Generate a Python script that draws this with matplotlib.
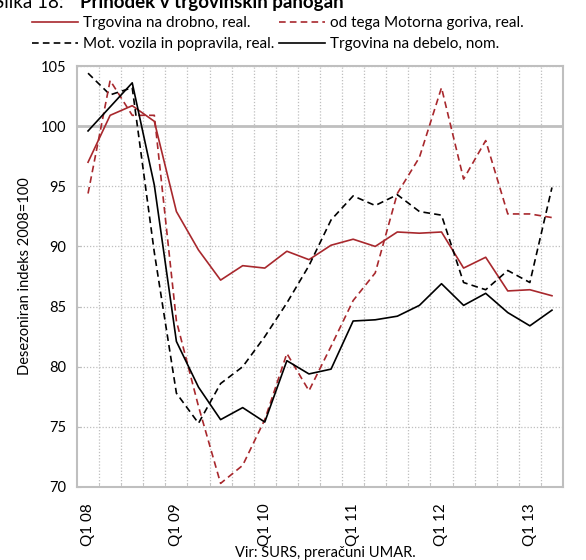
import matplotlib
matplotlib.use("Agg")
import matplotlib.pyplot as plt
import numpy as np

plt.rcParams['font.family'] = ['Lato', 'DejaVu Sans']

quarters = ["Q1 08", "Q2 08", "Q3 08", "Q4 08",
            "Q1 09", "Q2 09", "Q3 09", "Q4 09",
            "Q1 10", "Q2 10", "Q3 10", "Q4 10",
            "Q1 11", "Q2 11", "Q3 11", "Q4 11",
            "Q1 12", "Q2 12", "Q3 12", "Q4 12",
            "Q1 13", "Q2 13"]

drobno = [97.0, 100.9, 101.7, 100.4, 92.9, 89.7, 87.2, 88.4, 88.2, 89.6, 88.9,
          90.1, 90.6, 90.0, 91.2, 91.1, 91.2, 88.2, 89.1, 86.3, 86.4, 85.9]
goriva = [94.4, 103.8, 100.9, 100.9, 83.8, 76.7, 70.3, 71.8, 75.6, 81.1, 78.0,
          81.7, 85.5, 87.8, 94.4, 97.4, 103.2, 95.6, 98.8, 92.7, 92.7, 92.4]
vozila = [104.4, 102.6, 103.2, 89.5, 77.8, 75.3, 78.6, 80.0, 82.5, 85.3, 88.4,
          92.2, 94.2, 93.4, 94.3, 92.9, 92.6, 87.0, 86.4, 88.0, 87.0, 94.9]
debelo = [99.6, 101.6, 103.6, 95.1, 82.1, 78.3, 75.6, 76.6, 75.4, 80.5, 79.4,
          79.8, 83.8, 83.9, 84.2, 85.1, 86.9, 85.1, 86.1, 84.5, 83.4, 84.7]

labels = ["Trgovina na drobno, real.", "Mot. vozila in popravila, real.",
          "od tega Motorna goriva, real.", "Trgovina na debelo, nom."]

red = '#a8282d'
grid_c = '#bfbfbf'

fig = plt.figure(figsize=(5.86, 5.6), dpi=100)
ax = fig.add_axes([77/586, 1 - 487/560, 486/586, 421/560])

x = np.arange(len(quarters))
dash = (0, (4.0, 2.5))
l1, = ax.plot(x, drobno, color=red, lw=1.2)
l3, = ax.plot(x, vozila, color='black', lw=1.2, linestyle=dash)
l2, = ax.plot(x, goriva, color=red, lw=1.2, linestyle=dash)
l4, = ax.plot(x, debelo, color='black', lw=1.2)

ax.set_xlim(-0.5, len(quarters) - 0.5)
ax.set_ylim(70, 105)
ax.set_yticks([70, 75, 80, 85, 90, 95, 100, 105])
ax.tick_params(axis='y', length=3, direction='in', color=grid_c, labelsize=10.5, pad=8)

# gridlines
for yv in [75, 80, 85, 90, 95, 105]:
    ax.axhline(yv, color=grid_c, lw=0.9, ls=(0, (1, 1.5)), zorder=0)
ax.axhline(100, color=grid_c, lw=2.0, zorder=0)
for b in np.arange(0.5, len(quarters) - 1, 1.0):
    ax.axvline(b, color=grid_c, lw=0.9, ls=(0, (1, 1.5)), zorder=0)

major = list(range(0, len(quarters), 4))
ax.set_xticks(major)
ax.set_xticklabels([quarters[i] for i in major], rotation=90, fontsize=11)
ax.set_xticks(np.arange(0.5, len(quarters) - 1, 1.0), minor=True)
ax.tick_params(axis='x', which='major', length=0, pad=12)
ax.tick_params(axis='x', which='minor', length=3, direction='in', color=grid_c)

for s in ax.spines.values():
    s.set_color(grid_c)
    s.set_linewidth(1.5)

ax.set_ylabel("Desezoniran indeks 2008=100", fontsize=10.5, labelpad=6)

fig.legend([l1, l3, l2, l4], labels, ncol=2, loc='upper left',
           bbox_to_anchor=(26/586, 1 - 10/560), frameon=False, fontsize=11,
           handlelength=3.0, handletextpad=0.3, columnspacing=0.35,
           labelspacing=0.45, borderaxespad=0)

fig.text(-6/586, 1 - 8/560, "Slika 18: ", fontsize=13.5, ha='left', va='baseline')
fig.text(80/586, 1 - 8/560, "Prihodek v trgovinskih panogah", fontsize=13.5,
         fontweight='bold', ha='left', va='baseline')

fig.text(325/586, 1 - 557/560, "Vir: SURS, preračuni UMAR.", fontsize=10.5,
         ha='center', va='baseline')

fig.savefig("out.png", dpi=100)
